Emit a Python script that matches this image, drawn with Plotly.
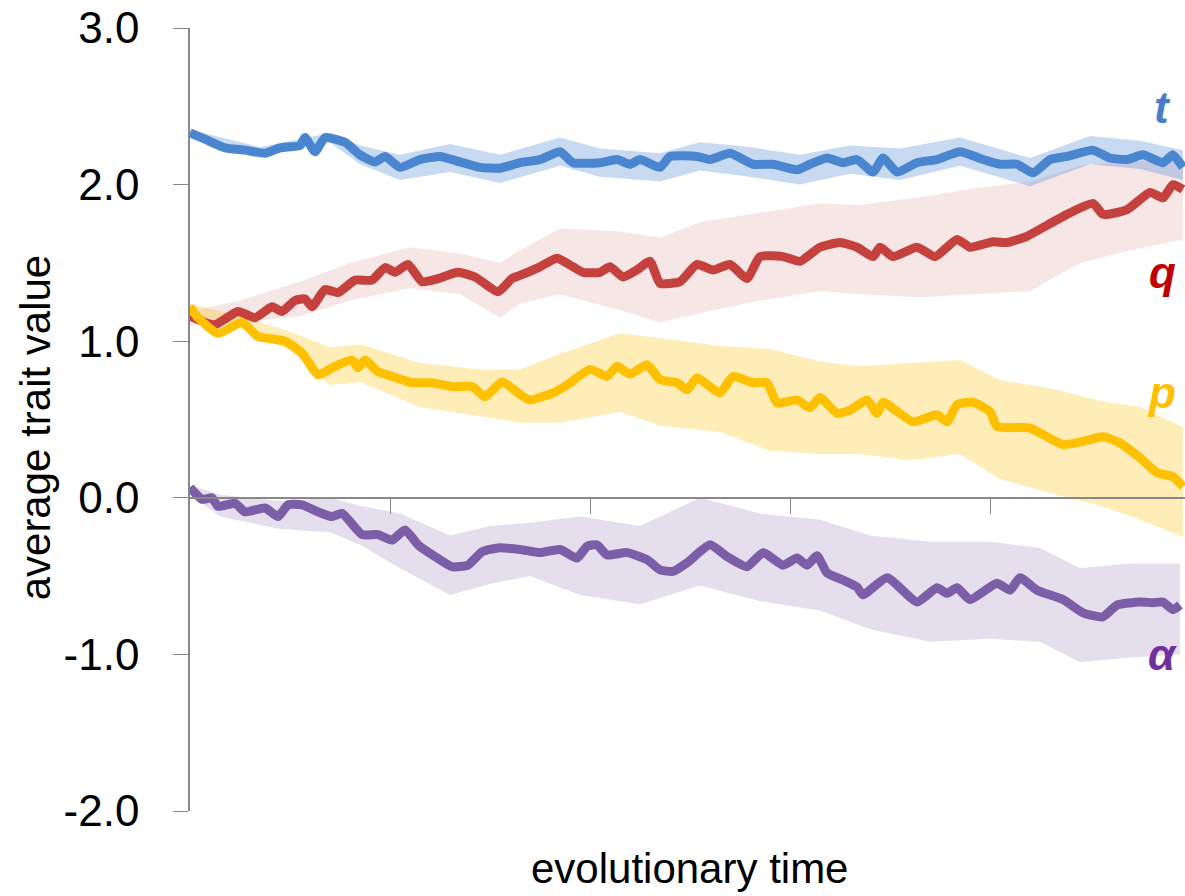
import plotly.graph_objects as go

# ---------------- data ----------------
y_tickvals = [-2, -1, 0, 1, 2, 3]
y_ticktext = ["-2.0", "-1.0", "0.0", "1.0", "2.0", "3.0"]
x_tickvals = [200, 400, 600, 800]

# t (blue)
t_time = [0, 15, 35, 55, 75, 90, 110, 115, 125, 135, 155, 170, 185, 195, 210, 230, 250, 270, 290, 310,
          330, 350, 370, 383, 410, 427, 440, 450, 470, 480, 507, 520, 540, 563, 583, 607, 620, 637, 653,
          667, 683, 693, 707, 727, 747, 770, 793, 810, 827, 843, 860, 877, 903, 920, 937, 953, 973, 983, 993]
t_mean = [2.33, 2.29, 2.235, 2.22, 2.20, 2.235, 2.25, 2.30, 2.21, 2.30, 2.27, 2.19, 2.145, 2.18, 2.11,
          2.16, 2.18, 2.145, 2.11, 2.105, 2.14, 2.16, 2.21, 2.14, 2.14, 2.16, 2.13, 2.16, 2.11, 2.18,
          2.18, 2.16, 2.20, 2.13, 2.13, 2.095, 2.13, 2.17, 2.14, 2.16, 2.08, 2.17, 2.08, 2.14, 2.16,
          2.21, 2.16, 2.13, 2.13, 2.075, 2.16, 2.18, 2.22, 2.17, 2.16, 2.19, 2.14, 2.19, 2.11]
t_band_time = [0, 70, 140, 170, 210, 260, 310, 370, 410, 470, 510, 560, 610, 660, 710, 770, 840, 900, 950, 993]
t_upper = [2.35, 2.24, 2.33, 2.25, 2.19, 2.26, 2.19, 2.30, 2.23, 2.20, 2.27, 2.24, 2.19, 2.25, 2.23,
           2.30, 2.17, 2.31, 2.28, 2.22]
t_lower = [2.30, 2.18, 2.27, 2.13, 2.03, 2.08, 2.01, 2.12, 2.05, 2.02, 2.09, 2.05, 2.00, 2.07, 2.03,
           2.12, 1.99, 2.13, 2.10, 2.03]

# q (red)
q_time = [0, 15, 25, 48, 65, 82, 92, 105, 115, 122, 135, 148, 165, 182, 195, 205, 218, 232, 248, 268,
          285, 308, 322, 330, 350, 367, 383, 393, 410, 420, 433, 447, 460, 470, 490, 507, 523, 540, 557,
          570, 593, 610, 630, 650, 667, 683, 690, 703, 727, 745, 767, 780, 803, 817, 837, 857, 877, 903,
          913, 937, 960, 973, 983, 993]
q_mean = [1.16, 1.12, 1.105, 1.19, 1.15, 1.22, 1.19, 1.26, 1.27, 1.22, 1.33, 1.31, 1.39, 1.39, 1.47,
          1.44, 1.49, 1.38, 1.40, 1.44, 1.41, 1.315, 1.40, 1.42, 1.475, 1.53, 1.475, 1.44, 1.44, 1.475,
          1.41, 1.455, 1.51, 1.37, 1.38, 1.49, 1.455, 1.49, 1.40, 1.54, 1.54, 1.51, 1.60, 1.63, 1.60,
          1.54, 1.60, 1.54, 1.60, 1.54, 1.65, 1.60, 1.635, 1.63, 1.67, 1.74, 1.81, 1.88, 1.81, 1.84,
          1.95, 1.915, 2.00, 1.97]
q_band_time = [0, 50, 110, 160, 220, 270, 310, 330, 370, 430, 470, 510, 570, 630, 670, 730, 790, 840,
               890, 940, 993]
q_upper = [1.19, 1.26, 1.38, 1.50, 1.60, 1.56, 1.50, 1.58, 1.72, 1.70, 1.66, 1.76, 1.82, 1.88, 1.87,
           1.92, 1.98, 2.02, 2.12, 2.15, 2.15]
q_lower = [1.10, 1.12, 1.16, 1.26, 1.34, 1.30, 1.15, 1.24, 1.30, 1.20, 1.12, 1.18, 1.26, 1.32, 1.30,
           1.28, 1.30, 1.32, 1.50, 1.58, 1.65]

# p (yellow)
p_time = [0, 8, 28, 52, 68, 95, 112, 128, 142, 162, 168, 175, 188, 202, 222, 242, 262, 282, 295, 312,
          330, 340, 363, 377, 400, 417, 427, 440, 457, 470, 487, 497, 507, 530, 543, 563, 577, 587, 607,
          620, 630, 647, 660, 677, 687, 693, 723, 747, 757, 767, 783, 800, 807, 840, 873, 893, 913, 930,
          950, 967, 983, 993]
p_mean = [1.22, 1.15, 1.05, 1.12, 1.03, 1.00, 0.925, 0.785, 0.83, 0.88, 0.83, 0.88, 0.805, 0.775, 0.735,
          0.735, 0.71, 0.71, 0.645, 0.74, 0.66, 0.625, 0.67, 0.72, 0.82, 0.775, 0.84, 0.79, 0.85, 0.755,
          0.735, 0.69, 0.765, 0.67, 0.775, 0.735, 0.735, 0.605, 0.625, 0.575, 0.64, 0.54, 0.56, 0.625,
          0.54, 0.61, 0.485, 0.53, 0.485, 0.595, 0.61, 0.55, 0.455, 0.445, 0.34, 0.36, 0.39, 0.35, 0.255,
          0.16, 0.135, 0.07]
p_band_time = [0, 50, 100, 140, 170, 230, 290, 330, 370, 430, 470, 530, 580, 630, 670, 720, 770, 810,
               860, 910, 950, 993]
p_upper = [1.24, 1.16, 1.06, 0.96, 0.98, 0.86, 0.82, 0.82, 0.92, 1.05, 1.02, 0.97, 0.95, 0.87, 0.84,
           0.86, 0.88, 0.75, 0.70, 0.62, 0.58, 0.45]
p_lower = [1.18, 1.08, 0.94, 0.72, 0.74, 0.58, 0.52, 0.48, 0.48, 0.55, 0.46, 0.42, 0.30, 0.28, 0.28,
           0.24, 0.28, 0.12, 0.03, -0.05, -0.14, -0.25]

# alpha (purple)
a_time = [0, 12, 22, 28, 45, 55, 75, 88, 98, 112, 128, 142, 152, 172, 188, 202, 215, 228, 245, 262, 278,
          292, 308, 330, 350, 370, 387, 397, 407, 417, 437, 457, 470, 483, 497, 520, 537, 557, 573, 593,
          607, 617, 627, 637, 653, 667, 673, 697, 727, 747, 757, 767, 780, 807, 820, 830, 847, 873, 893,
          913, 927, 950, 963, 973, 983, 990]
a_mean = [0.065, -0.01, 0.0, -0.055, -0.035, -0.09, -0.065, -0.12, -0.045, -0.045, -0.09, -0.12, -0.10,
          -0.235, -0.235, -0.27, -0.205, -0.30, -0.375, -0.44, -0.43, -0.345, -0.32, -0.33, -0.35, -0.33,
          -0.385, -0.31, -0.30, -0.365, -0.35, -0.395, -0.46, -0.47, -0.415, -0.30, -0.375, -0.44, -0.35,
          -0.43, -0.385, -0.43, -0.37, -0.48, -0.525, -0.57, -0.62, -0.51, -0.665, -0.575, -0.61, -0.575,
          -0.65, -0.545, -0.59, -0.51, -0.59, -0.65, -0.735, -0.76, -0.685, -0.665, -0.67, -0.665,
          -0.715, -0.685]
a_band_time = [0, 30, 90, 140, 170, 210, 260, 300, 340, 390, 450, 510, 570, 630, 680, 740, 800, 850, 890,
               940, 990]
a_upper = [0.08, 0.02, -0.02, 0.00, -0.05, -0.10, -0.24, -0.18, -0.16, -0.12, -0.18, 0.00, -0.10, -0.14,
           -0.24, -0.28, -0.28, -0.32, -0.45, -0.42, -0.42]
a_lower = [0.02, -0.12, -0.20, -0.22, -0.30, -0.45, -0.62, -0.55, -0.50, -0.62, -0.68, -0.56, -0.66,
           -0.72, -0.84, -0.92, -0.90, -0.92, -1.05, -1.02, -1.00]

series = [
    # name, time, mean, band_time, upper, lower, line colour, band colour, label colour, label y
    ("α", a_time, a_mean, a_band_time, a_upper, a_lower, "#7B5EA7", "rgba(123,94,167,0.20)", "#7030A0", -1.0),
    ("q", q_time, q_mean, q_band_time, q_upper, q_lower, "#C4413D", "rgba(196,65,61,0.13)", "#C00000", 1.44),
    ("p", p_time, p_mean, p_band_time, p_upper, p_lower, "#FFC000", "rgba(255,192,0,0.28)", "#FFC000", 0.67),
    ("t", t_time, t_mean, t_band_time, t_upper, t_lower, "#4A86D0", "rgba(74,134,208,0.30)", "#4A7EC8", 2.49),
]

FONT = "Liberation Sans, Arial, sans-serif"
fig = go.Figure()

# bands
for name, tx, m, bx, up, lo, lc, bc, labc, ly in series:
    fig.add_trace(go.Scatter(x=bx + bx[::-1], y=up + lo[::-1], fill="toself", fillcolor=bc,
                             line=dict(width=0), mode="lines", hoverinfo="skip", showlegend=False))
# mean lines
for name, tx, m, bx, up, lo, lc, bc, labc, ly in series:
    fig.add_trace(go.Scatter(x=tx, y=m, mode="lines", line=dict(color=lc, width=9, shape="spline",
                                                                smoothing=0.5),
                             name=name, showlegend=False))

# series labels
for name, tx, m, bx, up, lo, lc, bc, labc, ly in series:
    fig.add_annotation(x=972, y=ly, xref="x", yref="y", text="<b><i>%s</i></b>" % name,
                       showarrow=False, font=dict(family=FONT, size=44, color=labc))

fig.add_annotation(x=0, y=0.49, xref="paper", yref="paper", xshift=-155, xanchor="center",
                   yanchor="middle", text="average trait value",
                   textangle=-90, showarrow=False, font=dict(family=FONT, size=42, color="#000"))
fig.add_annotation(x=0.5025, y=0, xref="paper", yref="paper", yshift=-57, xanchor="center",
                   text="evolutionary time",
                   showarrow=False, yanchor="middle", font=dict(family=FONT, size=42, color="#000"))

fig.update_layout(
    width=1185, height=896,
    margin=dict(l=190, r=0, t=28, b=85, autoexpand=False),
    paper_bgcolor="white", plot_bgcolor="white",
    showlegend=False,
    xaxis=dict(range=[0, 995], tickvals=x_tickvals, showticklabels=False, ticks="outside", ticklen=15,
               tickcolor="#888", showline=True, linecolor="#888", linewidth=1.5, showgrid=False,
               zeroline=False, anchor="free", position=0.4),
    yaxis=dict(range=[-2, 3], tickvals=y_tickvals, ticktext=y_ticktext, ticks="outside", ticklen=15,
               tickcolor="#888", showline=True, linecolor="#888", linewidth=1.5, showgrid=False,
               zeroline=False, ticklabelstandoff=25, ticklabeloverflow="allow",
               tickfont=dict(family=FONT, size=44, color="#000")),
)

# remove the browser's default 8px body margin so the figure fills the window exactly
fig.write_html("out.html", config={"displayModeBar": False},
               post_script="document.body.style.margin='0px';")
